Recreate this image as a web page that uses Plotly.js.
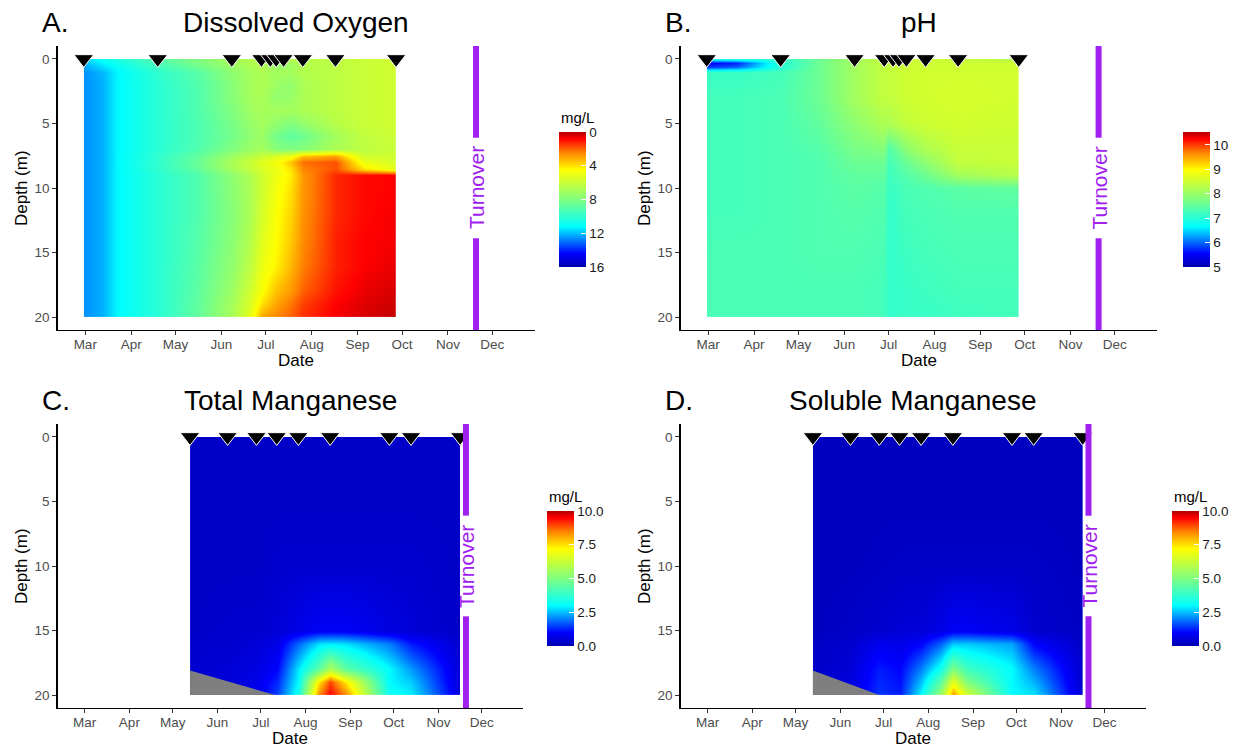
<!DOCTYPE html>
<html><head><meta charset="utf-8">
<script src="https://cdn.plot.ly/plotly-3.0.1.min.js"></script>
<style>html,body{margin:0;padding:0;background:#fff}#chart{width:1242px;height:751px}</style>
</head><body><div id="chart"></div>
<script>
// ---------------- DATA ----------------
const monthTicks = ['2019-03-01','2019-04-01','2019-05-01','2019-06-01','2019-07-01','2019-08-01','2019-09-01','2019-10-01','2019-11-01','2019-12-01'];
const monthLabels = ['Mar','Apr','May','Jun','Jul','Aug','Sep','Oct','Nov','Dec'];
const turnoverDate = '2019-11-20';

// sampling dates (triangles)
const sampleDatesAB = ['2019-02-28','2019-04-19','2019-06-08','2019-06-28','2019-07-04','2019-07-08','2019-07-13','2019-07-26','2019-08-17','2019-09-27'];
const sampleDatesCD = ['2019-05-13','2019-06-08','2019-06-28','2019-07-12','2019-07-27','2019-08-18','2019-09-28','2019-10-13','2019-11-16'];

// A. Dissolved oxygen (mg/L)
const doDates = ['2019-02-28','2019-03-12','2019-03-22','2019-04-19','2019-05-15','2019-06-08','2019-06-20','2019-06-28','2019-07-08','2019-07-18','2019-07-26','2019-08-17','2019-09-05','2019-09-27'];
const doDepths = [0, 0.5, 1, 2, 3, 4, 5, 6, 7, 7.5, 8, 8.5, 9, 10, 12, 14, 16, 18, 19, 20];
const doValues = [
  [11.8, 11.0, 10.5, 9.0, 8.0, 7.0, 6.6, 6.5, 6.5, 6.5, 6.5, 6.3, 6.0, 5.8],
  [12.2, 11.5, 11.0, 9.5, 8.3, 7.2, 6.8, 6.6, 7.5, 7.2, 6.6, 6.3, 6.0, 5.8],
  [12.6, 12.1, 11.3, 10.0, 9.0, 7.6, 7.0, 6.7, 7.0, 7.0, 6.6, 6.3, 6.0, 5.8],
  [12.6, 12.2, 11.3, 10.2, 9.2, 7.8, 7.0, 6.7, 7.2, 7.5, 6.8, 6.3, 6.0, 5.8],
  [12.6, 12.2, 11.3, 10.2, 9.2, 7.8, 7.0, 6.8, 7.5, 7.3, 6.8, 6.3, 6.0, 5.8],
  [12.6, 12.2, 11.3, 10.2, 9.2, 8.0, 7.2, 6.9, 7.0, 7.0, 6.8, 6.3, 6.0, 5.8],
  [12.6, 12.2, 11.3, 10.2, 9.3, 8.2, 7.4, 7.0, 7.5, 8.0, 7.5, 6.5, 6.0, 5.8],
  [12.6, 12.2, 11.3, 10.2, 9.3, 8.3, 7.6, 7.2, 8.3, 8.8, 8.5, 7.0, 6.2, 5.9],
  [12.6, 12.2, 11.3, 10.2, 9.2, 8.0, 7.3, 7.0, 7.8, 8.0, 7.8, 6.8, 6.3, 6.0],
  [12.6, 12.2, 11.3, 10.0, 8.8, 7.2, 6.5, 6.0, 5.5, 5.0, 3.5, 3.0, 5.8, 5.8],
  [12.6, 12.2, 11.3, 10.0, 8.6, 6.8, 6.0, 5.3, 4.8, 3.5, 2.2, 1.8, 5.0, 5.6],
  [12.6, 12.2, 11.3, 10.0, 8.8, 7.0, 6.2, 5.5, 5.0, 4.0, 2.5, 1.8, 4.0, 5.3],
  [12.6, 12.2, 11.3, 10.2, 9.2, 7.6, 6.7, 5.8, 5.0, 4.2, 2.8, 1.3, 0.9, 0.8],
  [12.6, 12.2, 11.3, 10.2, 9.2, 7.7, 6.8, 5.8, 4.8, 4.0, 2.8, 1.3, 0.9, 0.8],
  [12.6, 12.2, 11.3, 10.2, 9.2, 7.8, 6.8, 5.6, 4.6, 3.8, 2.7, 1.3, 0.9, 0.7],
  [12.6, 12.2, 11.3, 10.2, 9.1, 7.7, 6.6, 5.3, 4.5, 3.6, 2.6, 1.2, 0.8, 0.7],
  [12.6, 12.2, 11.3, 10.2, 9.0, 7.5, 6.3, 5.0, 4.3, 3.3, 2.4, 1.2, 0.8, 0.6],
  [12.6, 12.2, 11.3, 10.2, 8.9, 7.2, 5.8, 4.6, 3.5, 2.8, 2.0, 1.0, 0.6, 0.4],
  [12.6, 12.2, 11.3, 10.2, 8.8, 7.0, 5.5, 4.0, 3.0, 2.3, 1.6, 0.8, 0.5, 0.3],
  [12.6, 12.2, 11.3, 10.2, 8.8, 6.9, 5.2, 3.0, 2.5, 2.0, 1.4, 0.7, 0.4, 0.2]
];

// B. pH
const phDates = ['2019-02-28','2019-03-20','2019-04-19','2019-05-15','2019-06-08','2019-06-28','2019-07-01','2019-07-13','2019-07-26','2019-08-17','2019-09-27'];
const phDepths = [0, 0.3, 0.6, 1, 3, 5, 7, 8, 9, 10, 12, 15, 18, 20];
const phValues = [
  [6.8, 6.9, 7.1, 7.6, 8.1, 8.4, 8.4, 8.5, 8.5, 8.4, 8.3],
  [5.5, 5.7, 7.0, 7.6, 8.1, 8.4, 8.4, 8.5, 8.5, 8.5, 8.5],
  [5.8, 6.0, 7.0, 7.6, 8.1, 8.4, 8.4, 8.5, 8.5, 8.5, 8.5],
  [7.15, 7.15, 7.25, 7.6, 8.1, 8.4, 8.4, 8.5, 8.55, 8.55, 8.55],
  [7.25, 7.25, 7.3, 7.6, 8.1, 8.4, 8.4, 8.5, 8.55, 8.6, 8.55],
  [7.25, 7.25, 7.3, 7.5, 7.9, 8.2, 8.2, 8.4, 8.5, 8.55, 8.5],
  [7.25, 7.25, 7.3, 7.4, 7.7, 7.8, 7.35, 7.9, 8.2, 8.45, 8.45],
  [7.25, 7.25, 7.3, 7.35, 7.6, 7.6, 7.25, 7.6, 7.9, 8.4, 8.45],
  [7.25, 7.25, 7.3, 7.35, 7.5, 7.5, 7.2, 7.4, 7.6, 8.1, 8.3],
  [7.25, 7.25, 7.3, 7.35, 7.45, 7.4, 7.15, 7.3, 7.35, 7.45, 7.5],
  [7.25, 7.25, 7.3, 7.35, 7.4, 7.35, 7.1, 7.25, 7.3, 7.35, 7.35],
  [7.3, 7.3, 7.3, 7.35, 7.35, 7.3, 7.1, 7.2, 7.25, 7.3, 7.3],
  [7.3, 7.3, 7.3, 7.3, 7.3, 7.25, 7.1, 7.15, 7.2, 7.25, 7.25],
  [7.3, 7.3, 7.3, 7.3, 7.3, 7.25, 7.1, 7.15, 7.15, 7.2, 7.25]
];

// C/D. Manganese (mg/L)
const mnDates = ['2019-05-13','2019-06-08','2019-06-28','2019-07-12','2019-07-27','2019-08-10','2019-08-18','2019-08-28','2019-09-28','2019-10-13','2019-11-16'];
const mnDepths = [0, 5, 10, 15, 16, 18, 19, 20];
const totalMn = [
  [0.3, 0.3, 0.3, 0.3, 0.3, 0.3, 0.3, 0.3, 0.3, 0.3, 0.3],
  [0.3, 0.3, 0.3, 0.3, 0.3, 0.3, 0.3, 0.3, 0.3, 0.3, 0.3],
  [0.3, 0.3, 0.3, 0.4, 0.4, 0.4, 0.4, 0.4, 0.4, 0.4, 0.3],
  [0.3, 0.4, 0.4, 0.5, 0.7, 0.9, 0.9, 0.9, 0.6, 0.5, 0.3],
  [0.4, 0.4, 0.5, 0.7, 1.8, 2.8, 2.9, 2.8, 2.0, 1.2, 0.4],
  [0.4, 0.5, 0.6, 1.0, 2.8, 4.5, 5.8, 4.5, 3.0, 2.2, 0.5],
  [0.4, 0.5, 0.7, 1.3, 3.0, 7.5, 9.0, 7.5, 3.0, 2.6, 0.5],
  [0.4, 0.6, 0.8, 1.5, 3.3, 8.5, 9.5, 8.5, 3.2, 2.9, 0.6]
];
const solubleMn = [
  [0.2, 0.2, 0.2, 0.2, 0.2, 0.2, 0.2, 0.2, 0.2, 0.2, 0.2],
  [0.2, 0.2, 0.2, 0.2, 0.2, 0.2, 0.2, 0.2, 0.2, 0.2, 0.2],
  [0.2, 0.2, 0.25, 0.3, 0.3, 0.3, 0.3, 0.3, 0.3, 0.3, 0.2],
  [0.2, 0.3, 0.4, 0.5, 0.5, 0.7, 0.9, 0.9, 0.7, 0.4, 0.25],
  [0.3, 0.4, 0.8, 0.7, 1.0, 1.8, 2.6, 2.6, 2.3, 1.0, 0.3],
  [0.3, 0.5, 1.2, 1.0, 2.0, 3.3, 5.0, 4.0, 3.0, 2.0, 0.35],
  [0.3, 0.6, 1.3, 1.1, 2.5, 4.5, 6.8, 5.0, 3.0, 2.4, 0.35],
  [0.4, 0.7, 1.4, 1.2, 3.0, 5.5, 8.3, 6.5, 3.0, 2.8, 0.4]
];

// missing-data (grey) regions at the bottom
const naDatesC = ['2019-05-13','2019-05-13','2019-07-11'];
const naDepthsC = [18.1, 20, 20];
const naDatesD = ['2019-05-13','2019-05-13','2019-06-28'];
const naDepthsD = [18.1, 20, 20];

// ---------------- LAYOUT HELPERS ----------------
const W = 1242, H = 751;
const px = v => v / W;
const py = v => 1 - v / H;
const FONT = '"Liberation Sans", Arial, Helvetica, sans-serif';
const PURPLE = '#A020F0';
const jet = [[0,'#0000B0'],[0.1,'#0000FF'],[0.2,'#0080FF'],[0.3,'#00FFFF'],[0.5,'#80FF80'],[0.72,'#FFFF00'],[0.85,'#FF8000'],[0.95,'#FF0000'],[1,'#B00000']];

const panels = [
  {x0:57.5, x1:534.5, y0:46, y1:330, cbx:559, cbTop:132, cbBot:267, letter:'A.', title:'Dissolved Oxygen', titleY:22, yTitleX:21},
  {x0:680.5, x1:1157, y0:46, y1:330, cbx:1183, cbTop:132, cbBot:267, letter:'B.', title:'pH', titleY:22, yTitleX:644},
  {x0:57.5, x1:523, y0:424, y1:708, cbx:547, cbTop:511, cbBot:646, letter:'C.', title:'Total Manganese', titleY:400, yTitleX:21},
  {x0:680.5, x1:1145.5, y0:424, y1:708, cbx:1172, cbTop:511, cbBot:646, letter:'D.', title:'Soluble Manganese', titleY:400, yTitleX:644}
];

function cb(p, tickvals, ticktext) {
  return {
    x: px(p.cbx), xanchor: 'left', xpad: 0,
    y: py((p.cbTop + p.cbBot) / 2), yanchor: 'middle', ypad: 0,
    len: p.cbBot - p.cbTop, lenmode: 'pixels',
    thickness: 27, thicknessmode: 'pixels',
    outlinewidth: 0, ticks: 'inside', ticklen: 5, tickcolor: 'white', tickwidth: 1,
    tickvals: tickvals, ticktext: ticktext,
    tickfont: {family: FONT, size: 13.5, color: '#1a1a1a'}
  };
}

const axSuffix = ['', '2', '3', '4'];
const traces = [];

const fields = [
  {x: doDates, y: doDepths, z: doValues.map(r => r.map(v => -v)), zmin: -16, zmax: 0,
   tv: [-16, -12, -8, -4, 0], tt: ['16', '12', '8', '4', '0']},
  {x: phDates, y: phDepths, z: phValues, zmin: 5, zmax: 10.53,
   tv: [5, 6, 7, 8, 9, 10], tt: ['5', '6', '7', '8', '9', '10']},
  {x: mnDates, y: mnDepths, z: totalMn, zmin: 0, zmax: 10,
   tv: [0, 2.5, 5, 7.5, 10], tt: ['0.0', '2.5', '5.0', '7.5', '10.0']},
  {x: mnDates, y: mnDepths, z: solubleMn, zmin: 0, zmax: 10,
   tv: [0, 2.5, 5, 7.5, 10], tt: ['0.0', '2.5', '5.0', '7.5', '10.0']}
];

fields.forEach((f, i) => {
  traces.push({
    type: 'contour', x: f.x, y: f.y, z: f.z,
    xaxis: 'x' + axSuffix[i], yaxis: 'y' + axSuffix[i],
    zauto: false, zmin: f.zmin, zmax: f.zmax,
    colorscale: jet, ncontours: 40,
    contours: {coloring: 'heatmap', showlines: false},
    line: {width: 0, smoothing: 0},
    colorbar: cb(panels[i], f.tv, f.tt),
    hoverinfo: 'skip', showlegend: false
  });
});

[[naDatesC, naDepthsC, 2], [naDatesD, naDepthsD, 3]].forEach(([xs, ys, i]) => {
  traces.push({
    type: 'scatter', mode: 'lines', x: xs, y: ys, fill: 'toself',
    fillcolor: '#7F7F7F', line: {width: 0, color: '#7F7F7F'},
    xaxis: 'x' + axSuffix[i], yaxis: 'y' + axSuffix[i],
    hoverinfo: 'skip', showlegend: false
  });
});

[sampleDatesAB, sampleDatesAB, sampleDatesCD, sampleDatesCD].forEach((d, i) => {
  traces.push({
    type: 'scatter', mode: 'markers', x: d, y: d.map(() => 0),
    marker: {symbol: 'triangle-down', size: 17, color: 'black', line: {color: 'white', width: 1}},
    xaxis: 'x' + axSuffix[i], yaxis: 'y' + axSuffix[i], cliponaxis: false,
    hoverinfo: 'skip', showlegend: false
  });
});

const layout = {
  width: W, height: H,
  margin: {l: 0, r: 0, t: 0, b: 0},
  paper_bgcolor: 'white', plot_bgcolor: 'white',
  font: {family: FONT},
  showlegend: false,
  annotations: [],
  shapes: []
};

panels.forEach((p, i) => {
  layout['xaxis' + axSuffix[i]] = {
    domain: [px(p.x0), px(p.x1)], anchor: 'y' + axSuffix[i], type: 'date',
    range: ['2019-02-10 06:00', '2019-12-29 12:00'],
    tickmode: 'array', tickvals: monthTicks, ticktext: monthLabels,
    ticks: 'outside', ticklen: 4, tickcolor: '#333', tickwidth: 1, ticklabelstandoff: -2,
    showline: true, linecolor: 'black', linewidth: 1.2, showgrid: false, zeroline: false,
    tickfont: {family: FONT, size: 13.5, color: '#4D4D4D'}, fixedrange: true
  };
  layout['yaxis' + axSuffix[i]] = {
    domain: [py(p.y1), py(p.y0)], anchor: 'x' + axSuffix[i],
    range: [21, -1], tickmode: 'array', tickvals: [0, 5, 10, 15, 20],
    ticks: 'outside', ticklen: 4, tickcolor: '#333', tickwidth: 1,
    showline: true, linecolor: 'black', linewidth: 1.2, showgrid: false, zeroline: false,
    tickfont: {family: FONT, size: 13.5, color: '#4D4D4D'}, fixedrange: true
  };

  const cx = (p.x0 + p.x1) / 2;
  layout.annotations.push(
    {xref: 'paper', yref: 'paper', x: px(p.x0 - 18), y: py(p.titleY), xanchor: 'left', yanchor: 'middle',
     text: p.letter, showarrow: false, font: {family: FONT, size: 28, color: 'black'}},
    {xref: 'paper', yref: 'paper', x: px(cx), y: py(p.titleY), xanchor: 'center', yanchor: 'middle',
     text: p.title, showarrow: false, font: {family: FONT, size: 28, color: 'black'}},
    {xref: 'paper', yref: 'paper', x: px(cx), y: py(p.y1 + 30), xanchor: 'center', yanchor: 'middle',
     text: 'Date', showarrow: false, font: {family: FONT, size: 17, color: 'black'}},
    {xref: 'paper', yref: 'paper', x: px(p.yTitleX), y: py((p.y0 + p.y1) / 2), xanchor: 'center', yanchor: 'middle',
     text: 'Depth (m)', textangle: -90, showarrow: false, font: {family: FONT, size: 17, color: 'black'}},
    {xref: 'x' + axSuffix[i], yref: 'y' + axSuffix[i], x: turnoverDate, y: 10, xanchor: 'center', yanchor: 'middle',
     text: 'Turnover', textangle: -90, showarrow: false, font: {family: FONT, size: 21, color: PURPLE}}
  );
  if (i !== 1) {
    layout.annotations.push({xref: 'paper', yref: 'paper', x: px(p.cbx), y: py(p.cbTop - 15), xanchor: 'left', yanchor: 'middle',
      text: 'mg/L', showarrow: false, font: {family: FONT, size: 15, color: 'black'}});
  }
  [[-1, 6.1], [13.9, 21]].forEach(([a, b]) => {
    layout.shapes.push({type: 'line', xref: 'x' + axSuffix[i], yref: 'y' + axSuffix[i],
      x0: turnoverDate, x1: turnoverDate, y0: a, y1: b, layer: 'above',
      line: {color: PURPLE, width: 6}});
  });
});

Plotly.newPlot('chart', traces, layout, {displayModeBar: false, staticPlot: true});
</script></body></html>
